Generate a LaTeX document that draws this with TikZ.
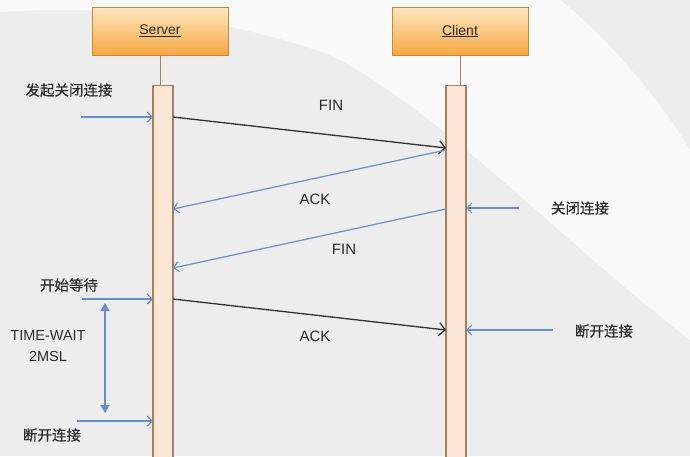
\documentclass[tikz,border=0pt]{standalone}
\usepackage{fontspec}
\setmainfont{Liberation Sans}
\newfontfamily\cjk[FakeBold=0.4]{Noto Sans CJK SC}
\usetikzlibrary{arrows.meta}
\definecolor{bgc}{HTML}{EDEDED}
\definecolor{txt}{HTML}{2B2B2B}
\definecolor{boxtop}{HTML}{FDE6C0}
\definecolor{boxbot}{HTML}{F6A843}
\definecolor{boxline}{HTML}{C4883A}
\definecolor{barfill}{HTML}{FCE7D6}
\definecolor{barline}{HTML}{A97E60}
\definecolor{bluel}{HTML}{6A8FC8}
\definecolor{blackl}{HTML}{333333}
\tikzset{
  actor/.style={rectangle, draw=boxline, line width=1pt, top color=boxtop, bottom color=boxbot,
    minimum width=136pt, minimum height=48pt, inner sep=0pt, text=txt,
    font=\fontsize{14}{16}\selectfont},
  actbar/.style={rectangle, draw=barline, fill=barfill, line width=1.1pt, minimum width=20pt,
    minimum height=380pt, anchor=north, inner sep=0pt},
  life/.style={draw=barline, line width=1pt},
  msgblack/.style={draw=blackl, line width=1.3pt, -{Straight Barb[length=6pt,width=13pt,line width=1.3pt]}},
  msgblue/.style={draw=bluel, line width=1.2pt, -{Straight Barb[length=5pt,width=10pt,line width=1.1pt]}},
  notearr/.style={draw=bluel, line width=1.2pt, -{Straight Barb[length=5pt,width=10pt,line width=1.1pt]}},
  span/.style={draw=bluel, line width=1.4pt, {Triangle[length=8pt,width=9pt]}-{Triangle[length=8pt,width=9pt]}},
  lbl/.style={text=txt, font=\fontsize{15}{18}\selectfont, inner sep=0pt},
  zh/.style={text=txt, font=\cjk\fontsize{14.5}{17}\selectfont, inner sep=0pt},
}
\begin{document}
\begin{tikzpicture}[x=1pt,y=-1pt]
\useasboundingbox (0,0) rectangle (690,456);
% background
\fill[bgc] (0,0) rectangle (690,456);
\fill[white, opacity=0.7] (0,0) -- (560,0) .. controls (610,40) and (660,100) .. (690,150)
  -- (690,340) .. controls (560,240) and (440,110) .. (330,55)
  .. controls (220,15) and (100,5) .. (0,12) -- cycle;
% actors
\node[actor] (srv) at (160,31) {\underline{Server}};
\node[actor] (cli) at (460,31) {\underline{Client}};
\node[actbar] (sbar) at (163,85) {};
\node[actbar] (cbar) at (456,85) {};
\draw[life] (srv.south) -- (srv.south |- sbar.north);
\draw[life] (cli.south) -- (cli.south |- cbar.north);
% endpoints on bars
\coordinate (s1) at (173,117);
\coordinate (c1) at (446,148);
\coordinate (c2) at (446,150);
\coordinate (s2) at (173,209);
\coordinate (c3) at (446,209);
\coordinate (s3) at (173,268);
\coordinate (s4) at (173,299);
\coordinate (c4) at (446,330);
\coordinate (sl1) at (153,117);
\coordinate (sl2) at (153,299);
\coordinate (sl3) at (153,421);
\coordinate (cr1) at (466,208);
\coordinate (cr2) at (466,330);
\coordinate (a1) at (81,117);
\coordinate (a2) at (82,299);
\coordinate (a3) at (77,421);
\coordinate (b1) at (519,208);
\coordinate (b2) at (553,330);
\coordinate (v1) at (105,303);
\coordinate (v2) at (105,413);
% messages
\draw[msgblack] (s1) -- (c1);
\draw[msgblue] (c2) -- (s2);
\draw[msgblue] (c3) -- (s3);
\draw[msgblack] (s4) -- (c4);
\node[lbl] (fin1) at (331,105) {FIN};
\node[lbl] (ack1) at (315,199) {ACK};
\node[lbl] (fin2) at (344,249) {FIN};
\node[lbl] (ack2) at (315,336) {ACK};
% side notes
\draw[notearr] (a1) -- (sl1);
\draw[notearr] (a2) -- (sl2);
\draw[notearr] (a3) -- (sl3);
\draw[notearr] (b1) -- (cr1);
\draw[notearr] (b2) -- (cr2);
\draw[span] (v1) -- (v2);
\node[zh] (t1) at (69,90) {发起关闭连接};
\node[zh] (t2) at (69,285) {开始等待};
\node[lbl, align=center, font=\fontsize{14.5}{21}\selectfont] (t3) at (48,346) {TIME-WAIT\\2MSL};
\node[zh] (t4) at (52,435) {断开连接};
\node[zh] (t5) at (580,208) {关闭连接};
\node[zh] (t6) at (604,331) {断开连接};
\end{tikzpicture}
\end{document}
